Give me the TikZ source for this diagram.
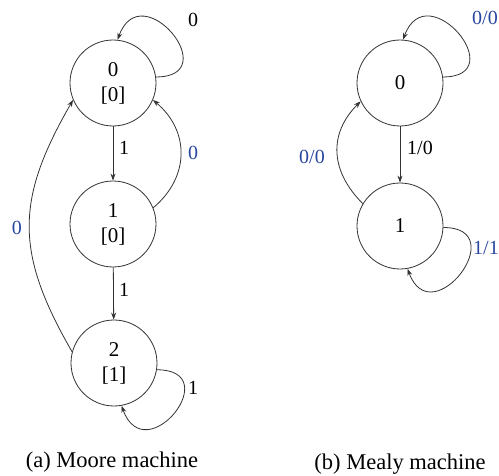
\documentclass[tikz,border=0pt]{standalone}
\usepackage{fontspec}
\setmainfont{Liberation Serif}
\usetikzlibrary{arrows.meta}
\definecolor{lblblue}{RGB}{40,70,160}
\begin{document}
\begin{tikzpicture}[x=1pt,y=1pt,
  state/.style={draw=black!80,line width=0.8pt,circle,minimum size=86pt,inner sep=0pt,align=center,font=\fontsize{21}{25}\selectfont},
  arc/.style={draw=black!80,line width=0.8pt,-{Stealth[length=7pt,width=5pt]}},
  lbl/.style={font=\fontsize{20}{22}\selectfont,inner sep=0pt},
  blbl/.style={lbl,text=lblblue},
  caption/.style={font=\fontsize{22.5}{26}\selectfont}]
\useasboundingbox (0,0) rectangle (499,475);

% Moore machine
\node[state] (m0) at (113,392){0\\{[0]}};
\node[state] (m1) at (113,251){1\\{[0]}};
\node[state] (m2) at (114,112){2\\{[1]}};

\draw[arc] (m0.8) to[out=0,in=70,distance=70pt] (m0.84);
\draw[arc] (m0) -- (m1);
\draw[arc] (m1.22) to[out=40,in=-40,distance=48pt] (m0.-23);
\draw[arc] (m1) -- (m2);
\draw[arc] (m2.165) to[out=120,in=-120,distance=115pt] (m0.203);
\draw[arc] (m2.-9) to[out=0,in=-70,distance=70pt] (m2.-80);

\node[lbl] (lm00) at (193,455){0};
\node[lbl] (lm01) at (124,327){1};
\node[blbl] (lm10) at (193,322){0};
\node[lbl] (lm12) at (124,185){1};
\node[blbl] (lm20) at (17,247){0};
\node[lbl] (lm22) at (193,87){1};

\node[caption] (capa) at (112,13){(a) Moore machine};

% Mealy machine
\node[state] (q0) at (400,392){0};
\node[state] (q1) at (400,249){1};

\draw[arc] (q0.8) to[out=0,in=70,distance=70pt] (q0.86);
\draw[arc] (q0) -- (q1);
\draw[arc] (q1.149) to[out=135,in=-135,distance=46pt] (q0.205);
\draw[arc] (q1.-2) to[out=0,in=-70,distance=70pt] (q1.-80);

\node[blbl,anchor=west] (lq00) at (472,457){0/0};
\node[lbl,anchor=west] (lq01) at (407,327){1/0};
\node[blbl,anchor=east] (lq10) at (325,318){0/0};
\node[blbl,anchor=west] (lq11) at (473,227){1/1};

\node[caption] (capb) at (400,11){(b) Mealy machine};
\end{tikzpicture}
\end{document}
